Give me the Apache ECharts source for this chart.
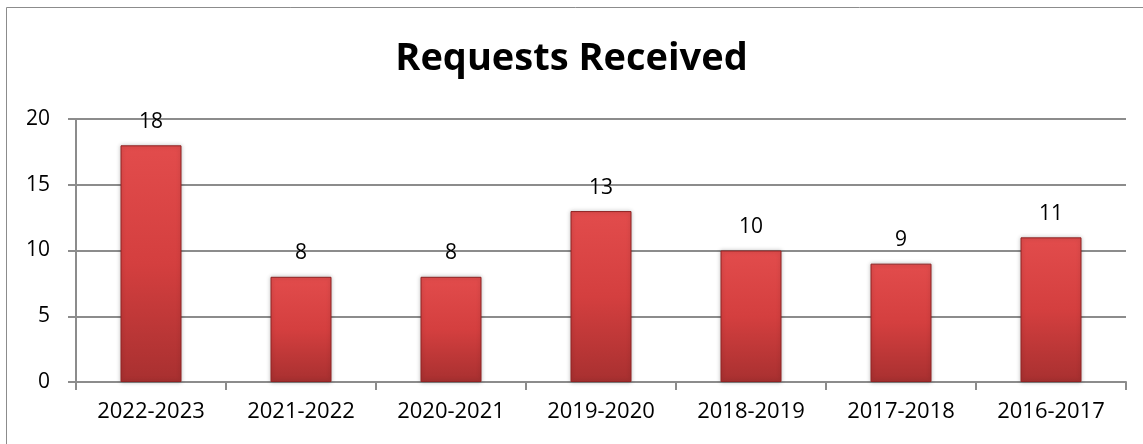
<!DOCTYPE html>
<html><head><meta charset="utf-8">
<script src="https://cdn.jsdelivr.net/npm/echarts@6/dist/echarts.min.js"></script>
<style>html,body{margin:0;padding:0;background:#fff}#c{width:1143px;height:444px}</style>
</head><body><div id="c"></div>
<script>
const categories = ['2022-2023','2021-2022','2020-2021','2019-2020','2018-2019','2017-2018','2016-2017'];
const values = [18, 8, 8, 13, 10, 9, 11];
const yTicks = [0, 5, 10, 15, 20];

const chart = echarts.init(document.getElementById('c'));
const font = '"Open Sans", sans-serif';
chart.setOption({
  animation: false,
  backgroundColor: '#fff',
  title: {
    text: 'Requests Received', left: 'center', top: 35,
    textStyle: {fontFamily: font, fontSize: 38, fontWeight: 'bold', color: '#000'}
  },
  graphic: [{type: 'rect', shape: {x: 6.5, y: 7.5, width: 1300, height: 600}, style: {fill: 'none', stroke: '#8c8c8c', lineWidth: 1}, silent: true}],
  grid: {left: 76, right: 17, top: 119, bottom: 62},
  xAxis: {
    type: 'category', data: categories,
    axisLine: {lineStyle: {color: '#8c8c8c', width: 2}},
    axisTick: {show: true, length: 8, lineStyle: {color: '#8c8c8c', width: 2}},
    axisLabel: {fontFamily: font, fontSize: 22, color: '#000', margin: 19}
  },
  yAxis: {
    type: 'value', min: yTicks[0], max: yTicks[yTicks.length-1], interval: 5,
    axisLine: {show: true, lineStyle: {color: '#8c8c8c', width: 2}},
    axisTick: {show: true, length: 8, lineStyle: {color: '#8c8c8c', width: 2}},
    splitLine: {lineStyle: {color: '#8c8c8c', width: 2}},
    axisLabel: {fontFamily: font, fontSize: 21, color: '#000', margin: 26}
  },
  series: [{
    type: 'bar', data: values, barWidth: 61,
    itemStyle: {
      color: new echarts.graphic.LinearGradient(0, 0, 0, 1, [
        {offset: 0, color: '#e24c4c'},
        {offset: 0.5, color: '#d43f3f'},
        {offset: 1, color: '#a83030'}
      ]),
      borderColor: '#8f2424', borderWidth: 1,
      shadowColor: 'rgba(0,0,0,0.25)', shadowBlur: 4, shadowOffsetX: 0, shadowOffsetY: 0
    },
    label: {show: true, position: 'top', distance: 13, fontFamily: font, fontSize: 21, color: '#000'}
  }]
});
</script></body></html>
